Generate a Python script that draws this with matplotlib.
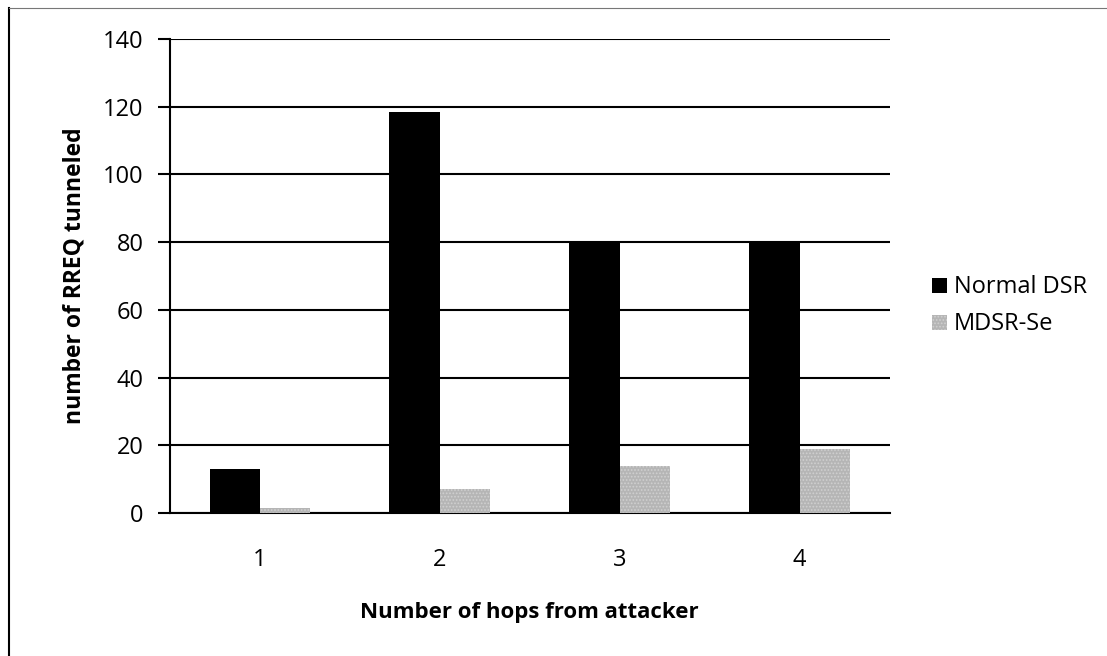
import numpy as np
import matplotlib.pyplot as plt
from matplotlib.lines import Line2D

# data
hops = ["1", "2", "3", "4"]
normal_dsr = [13, 118.5, 80, 80]
mdsr_se = [1.5, 7, 14, 19]

plt.rcParams['font.family'] = ['Open Sans', 'DejaVu Sans']
plt.rcParams['hatch.color'] = 'white'
plt.rcParams['hatch.linewidth'] = 0.8

fig = plt.figure(figsize=(11.07, 6.56), dpi=100)
ax = fig.add_axes([0.1536, 0.218, 0.65, 0.7225])

x = np.arange(len(hops))
width = 0.28

ax.bar(x - width / 2, normal_dsr, width, color='black', label='Normal DSR', zorder=3)
ax.bar(x + width / 2, mdsr_se, width, color='#b5b5b5', hatch='.....',
       edgecolor='#d0d0d0', linewidth=0, label='MDSR-Se', zorder=3)

ax.set_xlim(-0.5, len(hops) - 0.5)
ax.set_ylim(0, 140)
ax.set_yticks(range(0, 141, 20))
ax.set_xticks(x)
ax.set_xticklabels(hops)

ax.yaxis.grid(True, color='black', linewidth=1.5, zorder=0)
ax.set_axisbelow(True)
for s in ['top', 'right']:
    ax.spines[s].set_visible(False)
ax.spines['left'].set_linewidth(1.5)
ax.spines['bottom'].set_linewidth(1.5)
ax.tick_params(axis='y', length=9, width=1.5, labelsize=17, pad=10)
ax.tick_params(axis='x', length=0, labelsize=17, pad=25)

ax.set_xlabel('Number of hops from attacker', fontsize=16, fontweight='bold', labelpad=22)
ax.set_ylabel('number of RREQ tunneled', fontsize=16.5, fontweight='bold', labelpad=12)

ax.legend(loc='center left', bbox_to_anchor=(1.03, 0.437), frameon=False,
          fontsize=17, handlelength=0.6, handleheight=0.6, handletextpad=0.3,
          labelspacing=0.55)

# chart border (left and top edges visible in the scan)
fig.add_artist(Line2D([0.008, 0.008], [0, 0.988], color='black', linewidth=1.5))
fig.add_artist(Line2D([0.008, 1], [0.988, 0.988], color='#777777', linewidth=0.8))

plt.savefig('out.png', dpi=100)
